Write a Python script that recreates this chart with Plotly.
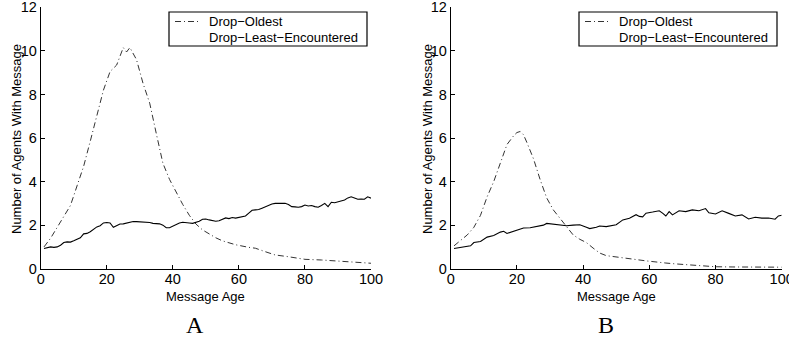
import plotly.graph_objects as go

# ---------------- data ----------------
# Panel A
a_old_x = [1, 3, 5, 7, 9, 11, 13, 15, 17, 19, 21, 23, 25, 26, 27, 29, 31, 33, 35, 37, 39, 41, 43, 45,
           47, 49, 51, 53, 55, 57, 59, 63, 65, 68, 71, 75, 80, 85, 90, 95, 99, 100]
a_old_y = [1.0, 1.4, 1.9, 2.4, 2.9, 3.8, 4.7, 5.85, 7.0, 8.2, 9.05, 9.35, 10.15, 9.95, 10.15, 9.6, 8.5, 7.6,
           6.2, 4.84, 4.1, 3.5, 2.95, 2.45, 2.05, 1.78, 1.6, 1.42, 1.28, 1.18, 1.1, 0.98, 0.94, 0.78,
           0.63, 0.55, 0.43, 0.4, 0.35, 0.32, 0.28, 0.25]

a_lea_x = list(range(1, 101))
a_lea_y = [0.93, 0.98, 1.0, 0.98, 1.0, 1.08, 1.2, 1.23, 1.22, 1.28,
           1.35, 1.42, 1.6, 1.62, 1.7, 1.8, 1.92, 1.97, 2.1, 2.12,
           2.1, 1.9, 1.98, 2.05, 2.06, 2.1, 2.16, 2.17, 2.16, 2.15,
           2.14, 2.14, 2.12, 2.08, 2.07, 2.06, 2.0, 1.88, 1.88, 1.95,
           2.02, 2.1, 2.13, 2.1, 2.1, 2.08, 2.12, 2.18, 2.27, 2.28,
           2.24, 2.2, 2.18, 2.2, 2.28, 2.33, 2.3, 2.35, 2.32, 2.36,
           2.38, 2.42, 2.55, 2.68, 2.7, 2.72, 2.78, 2.85, 2.9, 2.97,
           3.0, 3.0, 2.98, 3.0, 2.95, 2.85, 2.84, 2.82, 2.85, 2.92,
           2.88, 2.9, 2.85, 2.82, 2.9, 3.0, 2.85, 3.05, 3.03, 3.08,
           3.1, 3.15, 3.25, 3.3, 3.25, 3.19, 3.2, 3.19, 3.3, 3.24]

# Panel B
b_old_x = [1, 3, 5, 7, 9, 11, 13, 15, 17, 19, 20, 21, 22, 23, 25, 27, 29, 31, 33, 35, 37, 39, 41,
           43, 45, 47, 50, 53, 56, 59, 62, 65, 68, 72, 76, 80, 85, 90, 95, 100]
b_old_y = [1.05, 1.3, 1.55, 1.9, 2.45, 3.3, 4.0, 4.85, 5.7, 6.1, 6.25, 6.3, 6.15, 5.8, 5.05, 4.1,
           3.25, 2.7, 2.3, 1.95, 1.55, 1.35, 1.2, 0.95, 0.72, 0.6, 0.53, 0.48, 0.42, 0.36, 0.3,
           0.26, 0.22, 0.17, 0.11, 0.09, 0.08, 0.08, 0.06, 0.07]

b_lea_x = [1, 3, 4, 6, 7, 9, 11, 13, 15, 16, 17, 19, 21, 22, 24, 26, 28, 29, 31, 33, 35, 37, 39,
           41, 42, 44, 45, 47, 49, 50, 52, 54, 56, 57, 58, 59, 61, 63, 64, 65, 66, 67, 69, 71,
           73, 75, 77, 78, 80, 82, 84, 86, 88, 90, 92, 94, 96, 97, 98, 99, 100]
b_lea_y = [0.93, 0.98, 1.01, 1.05, 1.2, 1.25, 1.45, 1.52, 1.68, 1.72, 1.62, 1.72, 1.8, 1.87, 1.88,
           1.93, 2.0, 2.08, 2.04, 1.98, 1.97, 2.0, 2.02, 1.9, 1.84, 1.9, 1.96, 1.93, 1.98, 2.02,
           2.24, 2.32, 2.48, 2.4, 2.38, 2.55, 2.6, 2.66, 2.55, 2.42, 2.62, 2.47, 2.66, 2.62, 2.7,
           2.66, 2.76, 2.57, 2.51, 2.66, 2.54, 2.42, 2.47, 2.28, 2.36, 2.32, 2.33, 2.3, 2.27,
           2.42, 2.45]

x_ticks = [0, 20, 40, 60, 80, 100]
y_ticks = [0, 2, 4, 6, 8, 10, 12]
x_title = "Message Age"
y_title = "Number of Agents With Message"
name_old = "Drop\u2212Oldest"
name_lea = "Drop\u2212Least\u2212Encountered"
panel_labels = ["A", "B"]

# ---------------- figure ----------------
W, H = 789, 339
fig = go.Figure()
FONT = "Liberation Sans, Arial, Helvetica, sans-serif"
OLD_LINE = dict(color="#333333", width=1, dash="6px,3px,1px,3px")

def add_panel(xo, yo, xl, yl, xa, ya):
    fig.add_trace(go.Scatter(x=xo, y=yo, mode="lines", name=name_old, xaxis=xa, yaxis=ya,
                             line=OLD_LINE, showlegend=False))
    fig.add_trace(go.Scatter(x=xl, y=yl, mode="lines", name=name_lea, xaxis=xa, yaxis=ya,
                             line=dict(color="black", width=1.1), showlegend=False))

add_panel(a_old_x, a_old_y, a_lea_x, a_lea_y, "x", "y")
add_panel(b_old_x, b_old_y, b_lea_x, b_lea_y, "x2", "y2")

ydom = [1 - 268.7 / H, 1 - 7.3 / H]
xdomA = [40.7 / W, 371.0 / W]
xdomB = [450.7 / W, 781.7 / W]

axis_common = dict(showline=True, linecolor="black", linewidth=1, mirror=False, showgrid=False,
                   zeroline=False, ticks="inside", ticklen=4, tickcolor="black", automargin=False,
                   ticklabeloverflow="allow",
                   tickfont=dict(family=FONT, size=14.5, color="black"))
xcommon = dict(axis_common, range=[0, 100], tickvals=x_ticks, ticklabelstandoff=-3)
ycommon = dict(axis_common, range=[0, 12], tickvals=y_ticks)

fig.update_layout(
    width=W, height=H, margin=dict(l=0, r=0, t=0, b=0),
    paper_bgcolor="white", plot_bgcolor="white",
    xaxis=dict(xcommon, domain=xdomA, anchor="y"),
    yaxis=dict(ycommon, domain=ydom, anchor="x"),
    xaxis2=dict(xcommon, domain=xdomB, anchor="y2"),
    yaxis2=dict(ycommon, domain=ydom, anchor="x2"),
    showlegend=False,
)

def px(x):
    return x / W

def py(y):
    return 1 - y / H

TFONT = dict(family=FONT, size=13, color="black")

# axis titles
for xc, yc in ((206, 16), (616, 427)):
    fig.add_annotation(text=x_title, x=px(xc), y=py(296), xref="paper", yref="paper",
                       showarrow=False, xanchor="center", yanchor="middle", font=TFONT)
    fig.add_annotation(text=y_title, x=px(yc), y=py(139), xref="paper", yref="paper",
                       showarrow=False, xanchor="center", yanchor="middle", textangle=-90, font=TFONT)

# manual legends (compact boxes like the reference)
for left in (169, 579):
    fig.add_shape(type="rect", xref="paper", yref="paper",
                  x0=px(left), x1=px(left + 198), y0=py(12), y1=py(46),
                  line=dict(color="black", width=1.2), fillcolor="white", layer="above")
    fig.add_shape(type="line", xref="paper", yref="paper",
                  x0=px(left + 6), x1=px(left + 30), y0=py(21.5), y1=py(21.5),
                  line=OLD_LINE, layer="above")
    for txt, yy in ((name_old, 21.5), (name_lea, 37.5)):
        fig.add_annotation(text=txt, x=px(left + 38), y=py(yy), xref="paper", yref="paper",
                           showarrow=False, xanchor="left", yanchor="middle", font=TFONT)

for lbl, xc in zip(panel_labels, [195, 606]):
    fig.add_annotation(text=lbl, x=px(xc), y=py(325), xref="paper", yref="paper", showarrow=False,
                       xanchor="center", yanchor="middle",
                       font=dict(family="Liberation Serif, Times New Roman, serif", size=24, color="black"))

fig.write_html("out.html", config={"displayModeBar": False},
               post_script="document.body.style.margin='0';document.body.style.overflow='hidden';")
